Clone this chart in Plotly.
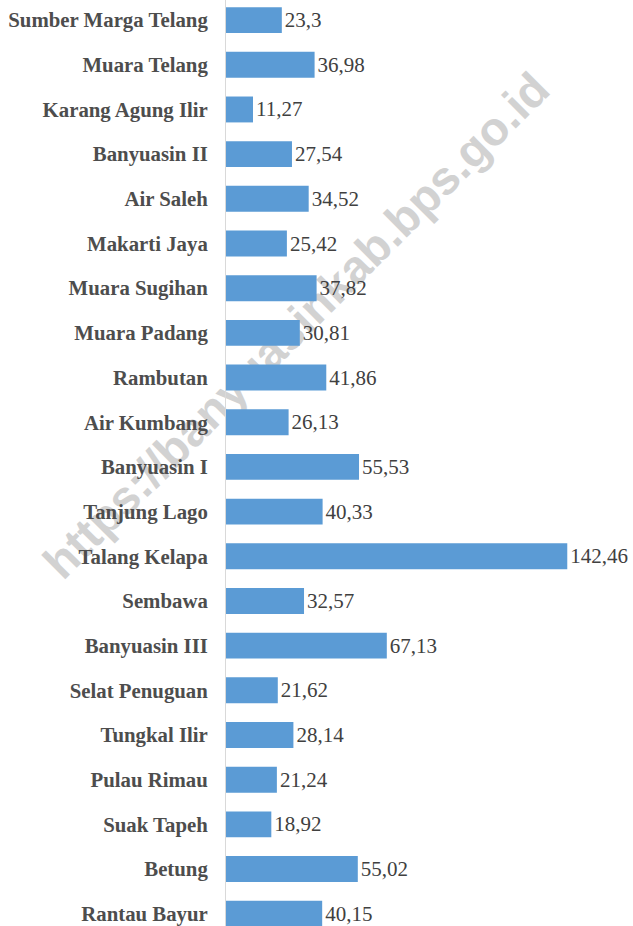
import plotly.graph_objects as go

# kecamatan, listed bottom to top as drawn
kecamatan = [
    "Rantau Bayur", "Betung", "Suak Tapeh", "Pulau Rimau", "Tungkal Ilir",
    "Selat Penuguan", "Banyuasin III", "Sembawa", "Talang Kelapa", "Tanjung Lago",
    "Banyuasin I", "Air Kumbang", "Rambutan", "Muara Padang", "Muara Sugihan",
    "Makarti Jaya", "Air Saleh", "Banyuasin II", "Karang Agung Ilir", "Muara Telang",
    "Sumber Marga Telang",
]
nilai = [
    40.15, 55.02, 18.92, 21.24, 28.14,
    21.62, 67.13, 32.57, 142.46, 40.33,
    55.53, 26.13, 41.86, 30.81, 37.82,
    25.42, 34.52, 27.54, 11.27, 36.98,
    23.3,
]
label_nilai = [f"{v:g}".replace(".", ",") for v in nilai]

fig = go.Figure()
fig.add_trace(go.Bar(
    y=kecamatan,
    x=nilai,
    orientation="h",
    width=0.58,
    marker=dict(color="#5B9BD5", line=dict(width=0)),
    text=label_nilai,
    textposition="outside",
    constraintext="none",
    cliponaxis=False,
    textfont=dict(family="Liberation Serif", size=21, color="#404040"),
))

fig.update_layout(
    width=633,
    height=926,
    margin=dict(l=226, r=0, t=0, b=0, autoexpand=False),
    plot_bgcolor="white",
    paper_bgcolor="white",
    showlegend=False,
    bargap=0.42,
    xaxis=dict(range=[0, 169.9], visible=False, automargin=False),
    yaxis=dict(
        range=[-0.275, 20.45],
        automargin=False,
        showline=True,
        linecolor="#d9d9d9",
        linewidth=1,
        showgrid=False,
        ticks="",
        ticklabelstandoff=13,
        tickfont=dict(family="Liberation Serif", size=20.8, color="#4d4d4d", weight="bold"),
    ),
    shapes=[dict(
        type="rect", xref="paper", yref="paper",
        x0=-0.285, x1=0.615, y0=0.452, y1=0.852,
        layer="below", line=dict(width=0), fillcolor="rgba(0,0,0,0)",
        label=dict(
            text="https://banyuasinkab.bps.go.id",
            textangle=-45,
            textposition="middle center",
            font=dict(family="Liberation Sans", size=47, color="#d2d2d2", weight="bold"),
        ),
    )],
)

# the page's default body margin would shift the chart by 8px
fig.write_html(
    "out.html",
    config={"displayModeBar": False},
    post_script="document.body.style.margin='0';document.body.style.overflow='hidden';",
)
